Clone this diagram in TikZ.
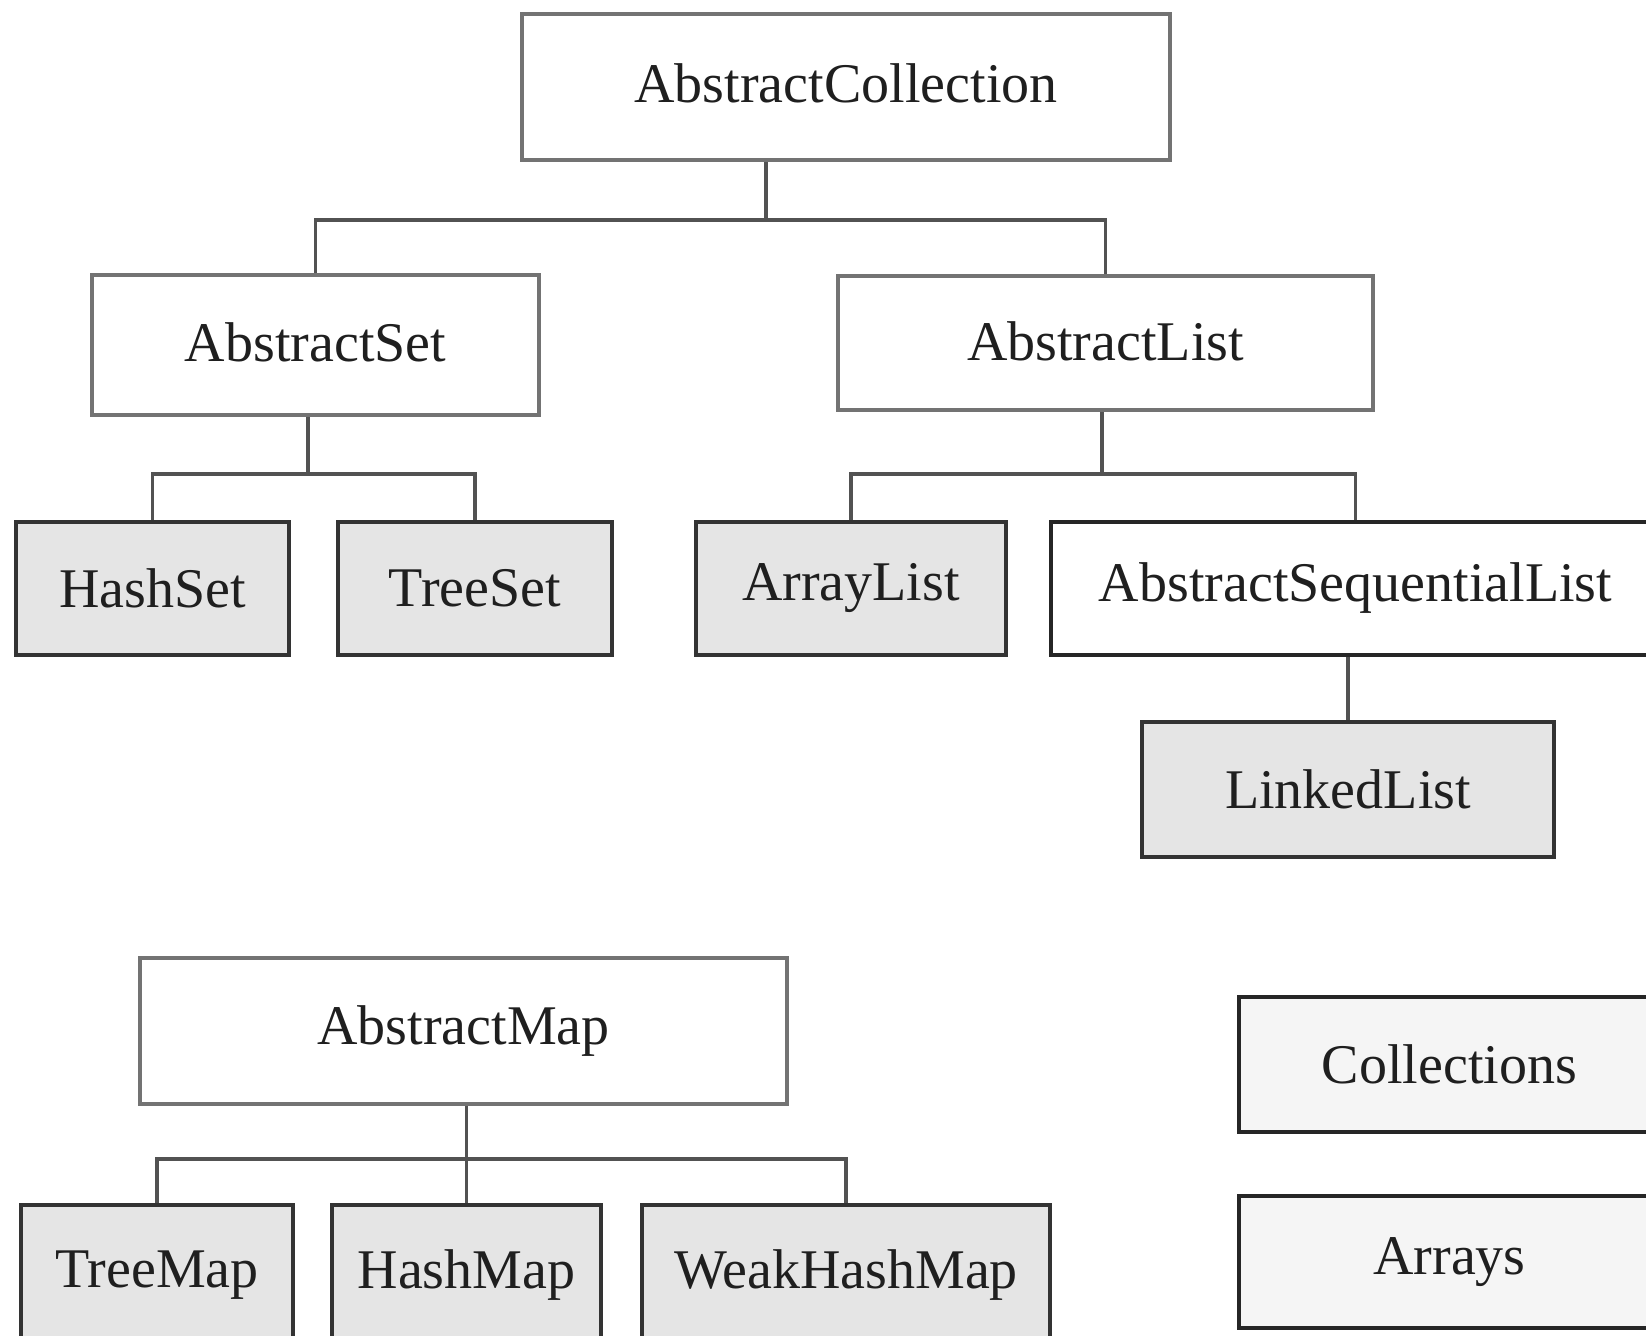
\documentclass[tikz,border=0pt]{standalone}
\usepackage{fontspec}
\setmainfont{Liberation Serif}
\begin{document}
\begin{tikzpicture}[x=0.5pt,y=-0.5pt,
  base/.style={rectangle, line width=1.8pt, inner sep=0pt, text=black!88,
    font=\fontsize{28}{30}\selectfont},
  wbox/.style={base, draw=black!55, fill=white},
  gbox/.style={base, draw=black!80, fill=black!10},
  sbox/.style={base, draw=black!85, fill=black!4},
  conn/.style={draw=black!68, line width=1.8pt}]
\useasboundingbox (0,0) rectangle (1646,1336);
\clip (0,0) rectangle (1646,1336);
\fill[white] (0,0) rectangle (1646,1336);

\node[wbox, minimum width=324pt, minimum height=73pt] (ac) at (846,87) {\raisebox{4pt}{AbstractCollection}};
\node[wbox, minimum width=223.5pt, minimum height=70pt] (as) at (315.5,345) {\raisebox{3pt}{AbstractSet}};
\node[wbox, minimum width=267.5pt, minimum height=67pt] (al) at (1105.5,343) {\raisebox{2pt}{AbstractList}};
\node[gbox, minimum width=136.5pt, minimum height=66.5pt] (hs) at (152.5,588.5) {HashSet};
\node[gbox, minimum width=137pt, minimum height=66.5pt] (ts) at (475,588.5) {TreeSet};
\node[gbox, minimum width=155pt, minimum height=66.5pt] (arl) at (851,588.5) {ArrayList};
\node[wbox, draw=black!85, minimum width=304.5pt, minimum height=66.5pt] (asl) at (1355.5,588.5) {AbstractSequentialList};
\node[gbox, minimum width=206pt, minimum height=67.5pt] (ll) at (1348,789.5) {LinkedList};
\node[wbox, minimum width=323.5pt, minimum height=73pt] (am) at (463.5,1031) {\raisebox{2pt}{AbstractMap}};
\node[gbox, minimum width=136pt, minimum height=70pt] (tm) at (157,1275) {TreeMap};
\node[gbox, minimum width=134.5pt, minimum height=70pt] (hm) at (466.5,1275) {HashMap};
\node[gbox, minimum width=204pt, minimum height=70pt] (whm) at (846,1275) {WeakHashMap};
\node[sbox, minimum width=210.5pt, minimum height=67.5pt] (col) at (1449.5,1064.5) {Collections};
\node[sbox, minimum width=210.5pt, minimum height=66pt] (arr) at (1449.5,1262) {Arrays};

\coordinate (j1) at (766,220);
\coordinate (j2) at (308,474);
\coordinate (j3) at (1102,474);
\coordinate (j4) at (466.5,1159);

\draw[conn] (ac.south -| j1) -- (j1);
\draw[conn] (as.north) |- (j1) -| (al.north);
\draw[conn] (as.south -| j2) -- (j2);
\draw[conn] (hs.north) |- (j2) -| (ts.north);
\draw[conn] (al.south -| j3) -- (j3);
\draw[conn] (arl.north) |- (j3) -| (asl.north);
\draw[conn] (ll.north) -- (ll.north |- asl.south);
\draw[conn] (am.south -| hm.north) -- (hm.north);
\draw[conn] (tm.north) |- (j4) -| (whm.north);
\end{tikzpicture}
\end{document}
